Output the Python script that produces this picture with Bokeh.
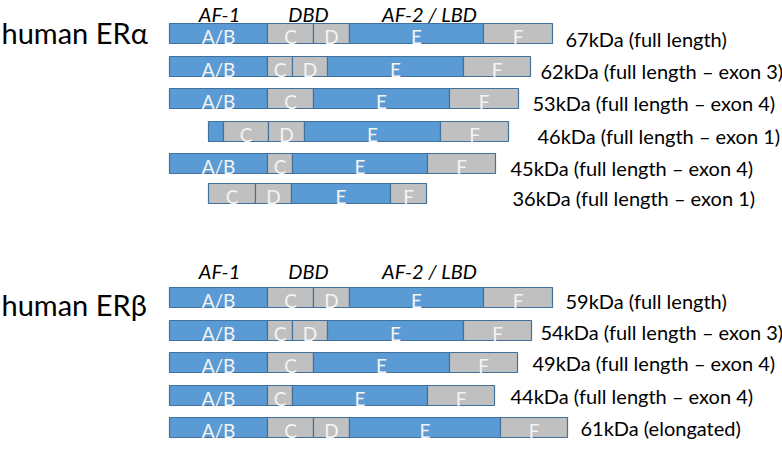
from bokeh.plotting import figure
from bokeh.models import Range1d, ColumnDataSource
from bokeh.core.properties import value
from bokeh.embed import file_html
from bokeh.resources import INLINE

# ---------------- data ----------------
ALPHA_TITLE = "human ERα"
BETA_TITLE = "human ERβ"
HEADERS = ["AF-1", "DBD", "AF-2 / LBD"]

ALPHA_LABELS = [
    "67kDa (full length)",
    "62kDa (full length – exon 3)",
    "53kDa (full length – exon 4)",
    "46kDa (full length – exon 1)",
    "45kDa (full length – exon 4)",
    "36kDa (full length – exon 1)",
]
ALPHA_DOMAINS = [
    ["A/B", "C", "D", "E", "F"],
    ["A/B", "C", "D", "E", "F"],
    ["A/B", "C", "E", "F"],
    ["A/B", "C", "D", "E", "F"],
    ["A/B", "C", "E", "F"],
    ["C", "D", "E", "F"],
]
ALPHA_BOUNDS = [
    [169, 267, 313, 349, 483, 552],
    [169, 267, 292, 327, 463, 530],
    [169, 267, 313, 449, 518],
    [208, 223, 268, 304, 440, 508],
    [169, 267, 292, 427, 495],
    [208, 255, 291, 390, 426],
]

BETA_LABELS = [
    "59kDa (full length)",
    "54kDa (full length – exon 3)",
    "49kDa (full length – exon 4)",
    "44kDa (full length – exon 4)",
    "61kDa (elongated)",
]
BETA_DOMAINS = [
    ["A/B", "C", "D", "E", "F"],
    ["A/B", "C", "D", "E", "F"],
    ["A/B", "C", "E", "F"],
    ["A/B", "C", "E", "F"],
    ["A/B", "C", "D", "E", "F"],
]
BETA_BOUNDS = [
    [169, 267, 313, 349, 483, 552],
    [169, 267, 292, 327, 463, 531],
    [169, 267, 313, 449, 517],
    [169, 267, 292, 427, 494],
    [169, 267, 313, 349, 500, 567],
]

# ---------------- layout ----------------
ALPHA_ROW_Y = [33, 66, 98, 131, 163, 193]
BETA_ROW_Y = [297, 330, 362, 395, 427]
ALPHA_LABEL_X = [565, 540, 532, 537, 510, 512]
BETA_LABEL_X = [565, 540, 532, 510, 580]
ALPHA_LABEL_Y = [38, 70, 102, 135, 167, 197]
BETA_LABEL_Y = [300, 331, 362, 395, 427]
HEADER_X = [219, 308, 429]
HEADER_Y = [13, 270]
TITLE_Y = [32, 304]
BAR_H = 20

BLUE = "#5b9bd5"
GRAY = "#c0c0c0"
EDGE = "#41719c"
DOMAIN_COLOR = {"A/B": BLUE, "C": GRAY, "D": GRAY, "E": BLUE, "F": GRAY}

W, H = 782, 449
p = figure(width=W, height=H, output_backend="svg", toolbar_location=None,
           x_range=Range1d(0, W), y_range=Range1d(H, 0),
           min_border=0, background_fill_color="white")
p.axis.visible = False
p.grid.visible = False
p.outline_line_color = None

seg = dict(left=[], right=[], top=[], bottom=[], color=[])
lab = dict(x=[], y=[], text=[])
for domains, bounds, ys in [(ALPHA_DOMAINS, ALPHA_BOUNDS, ALPHA_ROW_Y),
                            (BETA_DOMAINS, BETA_BOUNDS, BETA_ROW_Y)]:
    for doms, bnds, y in zip(domains, bounds, ys):
        for i, d in enumerate(doms):
            l, r = bnds[i], bnds[i + 1]
            seg["left"].append(l)
            seg["right"].append(r)
            seg["top"].append(y - BAR_H / 2)
            seg["bottom"].append(y + BAR_H / 2)
            seg["color"].append(DOMAIN_COLOR[d])
            if r - l >= 20:
                lab["x"].append((l + r) / 2)
                lab["y"].append(y + 3)
                lab["text"].append(d)

p.quad(left="left", right="right", top="top", bottom="bottom",
       fill_color="color", line_color=EDGE, line_width=1.2,
       source=ColumnDataSource(seg))
p.text(x="x", y="y", text="text", source=ColumnDataSource(lab),
       text_color="#f4f4f4", text_font=value("Lato"), text_font_size="19px",
       text_align="center", text_baseline="middle")

# isoform labels
p.text(x=ALPHA_LABEL_X + BETA_LABEL_X, y=ALPHA_LABEL_Y + BETA_LABEL_Y,
       text=ALPHA_LABELS + BETA_LABELS,
       text_color="black", text_font=value("Lato"), text_font_size="20px",
       text_align="left", text_baseline="middle")

# domain headers
p.text(x=HEADER_X * 2, y=[HEADER_Y[0]] * 3 + [HEADER_Y[1]] * 3, text=HEADERS * 2,
       text_color="black", text_font=value("Lato"), text_font_size="20px",
       text_font_style="italic", text_align="center", text_baseline="middle")

# receptor titles
p.text(x=[1, 1], y=TITLE_Y, text=[ALPHA_TITLE, BETA_TITLE],
       text_color="black", text_font=value("Lato"), text_font_size="29px",
       text_align="left", text_baseline="middle")

open("out.html", "w").write(file_html(p, INLINE))
